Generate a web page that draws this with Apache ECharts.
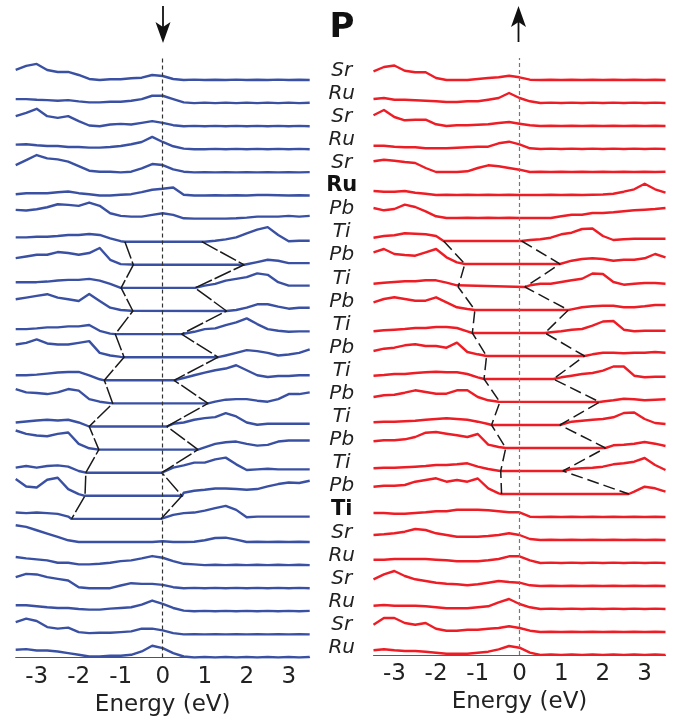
<!DOCTYPE html>
<html>
<head>
<meta charset="utf-8">
<script src="https://cdn.jsdelivr.net/npm/echarts@6/dist/echarts.min.js"></script>
<style>html,body{margin:0;padding:0;background:#fff}#c{width:680px;height:726px}</style>
</head>
<body>
<div id="c"></div>
<script>
// Energy grid (eV)
const energy = [-3.5,-3.25,-3,-2.75,-2.5,-2.25,-2,-1.75,-1.5,-1.25,-1,-0.75,-0.5,-0.25,0,0.25,0.5,0.75,1,1.25,1.5,1.75,2,2.25,2.5,2.75,3,3.25,3.5];
const xTicks = [-3,-2,-1,0,1,2,3];
const layers = ["Sr","Ru","Sr","Ru","Sr","Ru","Pb","Ti","Pb","Ti","Pb","Ti","Pb","Ti","Pb","Ti","Pb","Ti","Pb","Ti","Sr","Ru","Sr","Ru","Sr","Ru"];
const boldLayers = [5, 19];

// Spin-down layer DOS (top to bottom)
const dosDown = [
[10,14,16,10,8,8,5,1,0,0.7,0.7,1.7,2.3,5,4,1,0,0.4,0,0.3,0,0.4,0,0.3,0,0.4,0,0.3,0],
[4,4,3.3,3,2.3,3,1.7,0.7,0.7,1.3,1.3,2.3,4,7.3,7.3,4,0.7,0,0.5,0,0.5,0,0.5,0,0.5,0,0.5,0,0.3],
[10,13.3,17.3,10,8.3,10,5,0.7,0,1.7,2.3,1.7,3.3,5,3.3,1,0,0.3,0,0.3,0,0.3,0,0.3,0,0.3,0,0.3,0],
[4.7,5,4,3.3,3.3,2.3,2.3,1.7,1.7,2.3,3.3,5,7.3,12.3,7.3,3,0.7,0,0,0.4,0,0.4,0,0.4,0,0.4,0,0.4,0],
[7.3,12.3,17.3,14,13,10.7,6.3,1.7,0.7,0.7,0,0.7,4,8.3,7.3,3,0.7,0,0.3,0,0.3,0,0.3,0,0.3,0,0.3,0,0.3],
[1.3,2.3,2.3,2.3,3.3,4,2.3,1.3,0,0,0.7,1.3,3.3,5.7,6.7,8,0.7,0,0,0.3,0,0.3,0,0.5,0.5,0.3,0,0.3,0],
[8.7,8,9.3,11.3,14.3,13.7,12.7,16,12.7,5.3,2.7,2,2,3.7,5.3,3.7,0.3,0,0,0,0,0.3,1,2,2,2,2.7,2,2.7],
[4.3,4.3,5,5,5.7,6.7,6.7,7.7,6.7,3.3,0.5,0,0,0,0,0,0,0,0,1,2.3,4.3,8.3,12,14.5,6.7,0.5,1,1],
[6.7,8.3,10,10,12.7,11.7,10,11.7,16.7,5,0.7,0.3,0,0,0,0,0,0,0,0,0,0,0.5,2.7,5,4,1.7,1.7,1.7],
[5.7,5.7,5.7,6.3,7.3,8,8,9,7.3,4,0,0,0,0,0,0,0,0,2.3,4,7.3,9,10.7,14.5,13,5.7,2.3,2.3,2.3],
[11.7,13.3,15,16.7,13.3,11.7,10,17,10,3.3,1,0.3,0,0,0,0,0,0,0,0,0,1,3.3,6.7,6.7,4.3,2.3,3.3,3.3],
[5,5,5.7,6.7,6.7,7.7,7.7,9,3.3,0.5,0,0,0,0,0,0,0.3,2.3,5,5.7,9,11.7,15.7,10,5,3.3,2.3,2.7,2.7],
[12.7,14.3,17.7,13.7,12.7,12.7,14.3,16,4.3,1.7,0.3,0,0,0,0,0,0,0,0,0,1.7,4.3,7,6,4.3,1.7,2.7,4.3,7.7],
[5,5,5.7,6.7,7.7,8.3,8.3,5,1,0,0,0,0,0,0,0,2.3,5,7.7,10,11.7,15,10,5,3.3,4.3,4.3,5,5],
[14.3,11,10.3,9.3,11,14.3,12.7,4.3,1.7,0.3,0,0,0,0,0,0,0,0,0,1.7,3.7,4.3,4.3,2.7,1.7,4.3,9.3,9.3,11],
[4,5,6,6.7,6,6.7,4,0,0,0,0,0,0,0,0,2.7,4,6.7,8.3,9.3,13.3,10,4,1.7,2.7,2.7,2.7,2.7,2.7],
[19,15.7,14,13.3,15.7,17,5.7,1.3,0,0,0,0,0,0,0,0,0,0,2.3,5.7,7.3,8,5.7,4,4.7,8,9,9,9],
[5,6.7,5,6.7,7.3,6,1.7,0,0,0,0,0,0,0,0.5,5,7.3,10,10,13.3,15,8.3,2.7,3.3,4,3.3,3.3,3.3,3.3],
[16.7,9.3,8.3,16,18,6.7,1.7,0,0,0,0,0,0,0,0,0,3,5,6,7.3,7.3,6.7,6,6.7,9.3,11.7,13.3,12.7,15],
[6.3,5.7,6.3,5.7,5,2.3,0,0,0,0,0,0,0,0,1,4,5.7,6.3,8.3,10.7,13,9,1.7,2.3,2.3,2.3,2.3,2.3,2.3],
[16.7,15,11.7,8.3,5,1.7,0,0,0,0,0,0,0,0,0.7,0,0,0.3,1.7,4,4.3,2.3,0,0.3,0,0.3,0,0.3,0],
[8,6.7,5.7,4.7,2.3,2.3,0.7,0.7,1.3,2.3,4,4.7,6.7,9,7.3,4,1.3,0.7,0,0.4,0,0.4,0,0.4,0,0.4,0,0.4,0],
[11,14.3,13.7,11,9.3,7.7,1,0,0,0,2.7,5,4.3,4.3,3.3,1,0,0.3,0,0.3,0,0.3,0,0.3,0,0.3,0,0.3,0],
[6,6,5,4,3.3,3.3,2.3,1.7,1.7,2.7,3.3,4,6.7,10.7,7.3,3.3,0.7,0,0.4,0,0.4,0,0.4,0,0.4,0,0.4,0,0.4],
[12.3,15.7,13.3,7.3,5.7,6.7,2.3,1.3,1.7,1.7,2.3,3,5.7,5.7,4,1.3,0,0.3,0,0.3,0,0.3,0,0.3,0,0.3,0,0.3,0],
[7.7,8.3,7,7,6,4.3,2.7,1,1,1.7,1.7,2.7,6,11.7,9.3,4.3,1,0,0.5,0,0.5,0,0.5,0,0.5,0,0.5,0,0.5]
];

// Spin-up layer DOS (top to bottom)
const dosUp = [
[8.7,13,14.5,9.3,7.7,7.7,2,0,0,0,1,2,2.7,4.3,2.7,0.3,0,0.3,0,0.3,0,0.3,0,0.3,0,0.3,0,0.3,0],
[4,5,3.3,3.3,2.7,2.3,1.7,1,1,1.7,1.7,3.3,5,10,5,1.7,0,0.4,0,0.4,0,0.4,0,0.4,0,0.4,0,0.4,0],
[10.7,16,9,5.7,6.3,6.3,1.7,0,0.7,0.7,1.3,1.7,3,4,2.3,0.7,0,0.3,0,0.3,0,0.3,0,0.3,0,0.3,0,0.3,0],
[3.3,3.3,2.3,1.7,1.7,0.7,0.7,0.7,1.3,1.7,2.3,2.3,5.7,7.3,4.7,0.7,0,0.4,0,0.4,0,0.4,0,0.4,0,0.4,0,0.4,0],
[10.7,12.3,11.3,10,9,4,0,0,0,0.7,4,6.7,5.7,4,2.3,0,0.3,0,0.3,0,0.3,0,0.3,0,0.3,0,0.3,0,0.3],
[4,3.3,3.3,4,2.3,1.3,0,0.3,0,0.3,0,0.3,0,0.3,0,0,0,0.3,0,0.3,0,0.3,0.5,1.3,3.3,5.7,11.3,5.7,2.3],
[10,7.7,9,13.3,11,6.7,1.7,0,0,0.3,0,0.3,0,0.3,0,0,0,0,1.7,3.3,3.3,5,5,5.7,6.7,7.7,8.3,9,10],
[3.3,5,5.7,7.7,7.3,6.7,5,0,0,0,0,0,0,0,0,1,1.7,3.3,6.7,8.3,12,12.5,5,1,1.7,2.3,2.3,2.3,2.3],
[11.7,15,10,9,8.3,11.7,15,6.7,1.7,0,0,0,0,0,0,0,0,0,0.3,3.3,5,5.7,5,3.3,4.3,4.3,5.7,10,6.7],
[3.3,4.3,5,5.7,5.7,6.7,6.7,4.3,1.7,0,0,0,0,0,0,1.7,3.3,3.3,5,6.7,8.3,13.5,13,5,2.3,3.3,4,4,3.3],
[7.7,11,12.7,11,9.3,9.3,12.7,7.7,2.7,1,0,0,0,0,0,0,0,0,0,0.7,2.7,3.7,4.3,4.3,2.7,2.7,3.7,5,5],
[1.7,2.7,3.3,4,5,5,6,6,5,1.7,0,0,0,0,0,0,0,0.7,1.7,3.3,4,7.3,11.5,12,3.3,1.7,2.3,2.3,2.3],
[5,7.3,8.3,10.7,11.7,10,10,8.3,13.3,4,1.7,0,0,0,0,0,0,0,0,0,0,1.7,3.3,3.3,2.7,3.3,3.3,4,3.3],
[3.3,4,5,5,6,6.7,7.3,6.7,6.7,5,1.7,0,0,0,0,0,0,0,1.7,3.3,5,6,8.3,12.5,12.5,3.3,1.7,2.3,2.3],
[5,6.7,7.3,9.3,11.7,10,8.3,8.3,11.7,11.7,5,1.7,0.3,0,0,0,0,0,0,0,0,0,0.5,1.7,3.3,2.7,1.7,2.3,2.7],
[2.7,3.3,3.3,3.7,4.3,5.3,6,6.7,6,5.3,3.3,1,0,0,0,0,0,0,0.3,3.3,4.3,5.3,6,7.7,12,12.5,6,2,1],
[6.7,7.7,7.7,8.7,11,15.3,16,14.3,12.7,11,14,3.3,1,0,0,0,0,0,0,0,0,0,0,2.7,3.3,4.3,6,4.3,2],
[2.7,3.3,3.3,3.7,4.3,5,6,6,6.7,7.7,4.3,2,0.3,0,0,0,0,0,0,2,2.7,3.3,4.3,6.7,7.7,9.3,13,6,1],
[7.3,8.3,8.3,9,12.3,14,15.7,12.3,14,12.3,15.5,5.7,0.7,0,0,0,0,0,0,0,0,0,0,0,0,2.3,7.3,5.7,2.3],
[4,4,3.3,3.3,4,4.7,5.7,5.7,7.3,7.3,7.3,6.7,5.7,4.7,4.7,0.3,0,0.3,0,0.3,0,0.3,0,0.3,0,0.3,0,0.3,0],
[5,5.7,6.7,8.3,11,10,6.7,5,3.3,3.3,3.3,4,5,6.7,5,1,0,0.3,0,0.3,0,0.3,0,0.3,0,0.3,0,0.3,0],
[3.3,3.3,4,4,4,4,3.3,2.7,1.7,1.7,1.7,2.7,4,6.7,6.7,2.7,0,0.4,0,0.4,0,0.4,0,0.4,0,0.4,0,0.4,0],
[6.7,11.7,15,10,6.7,5,3.3,2.3,1.7,0.7,1.7,3.3,5,4,3.3,0.7,0,0.3,0,0.3,0,0.3,0,0.3,0,0.3,0,0.3,0],
[3.3,4,3.3,3.3,3.3,2.7,1.7,0.7,0.7,0.7,1.7,2.7,6.7,10,5,1.7,0,0.4,0,0.4,0,0.4,0,0.4,0,0.4,0,0.4,0],
[7.3,14,14,9,7.3,9,3.3,1.3,1.3,2.3,2.3,3.3,4,5.7,4,1.3,0,0.3,0,0.3,0,0.3,0,0.3,0,0.3,0,0.3,0],
[4.7,5.7,4.7,4,4,3.3,2.3,1.3,1.3,1.3,2.3,3.3,5.7,9,7.3,2.3,0,0.5,0,0.5,0,0.5,0,0.5,0,0.5,0,0.5,0]
];

// Band edges (eV) for the gapped layers
const gapFirstDown = 7;
const vbDown = [-0.90,-0.70,-0.99,-0.71,-1.13,-0.92,-1.39,-1.19,-1.75,-1.52,-1.83,-1.85,-2.17];
const cbDown = [0.93,1.94,0.77,1.52,0.45,1.32,0.27,1.08,0.10,0.84,-0.02,0.46,-0.04];
const gapFirstUp = 7;
const vbUp = [-1.82,-1.31,-1.47,-1.07,-1.13,-0.79,-0.85,-0.47,-0.67,-0.33,-0.45,-0.43];
const cbUp = [0.05,0.97,0.13,1.17,0.61,1.56,0.81,1.92,0.97,2.06,1.04,2.62];

const S = 23;               // vertical offset between layers (DOS units)
const N = layers.length;
const base = i => (N - 1 - i) * S;
const BLUE = '#3a51a3', RED = '#ee1c25';

function curve(h, i, vb, cb) {
  const pts = [];
  energy.forEach((e, k) => {
    if (vb === undefined || !(e > vb && e < cb)) pts.push([e, base(i) + h[k]]);
  });
  if (vb !== undefined) {
    pts.push([vb, base(i)], [cb, base(i)]);
    pts.sort((a, b) => a[0] - b[0]);
  }
  return pts;
}

function panelSeries(dos, vbs, cbs, first, color, gi, dash, vColor) {
  const out = [];
  dos.forEach((h, i) => {
    const j = i - first;
    const has = j >= 0 && j < vbs.length;
    out.push({
      type: 'line', xAxisIndex: gi, yAxisIndex: gi, showSymbol: false, silent: true,
      data: curve(h, i, has ? vbs[j] : undefined, has ? cbs[j] : undefined),
      lineStyle: { color: color, width: 2.4, join: 'round' }, z: 2
    });
  });
  const mk = arr => arr.map((e, j) => [e, base(first + j)]);
  [vbs, cbs].forEach(arr => out.push({
    type: 'line', xAxisIndex: gi, yAxisIndex: gi, showSymbol: false, silent: true,
    data: mk(arr), lineStyle: { color: '#1a1a1a', width: 1.5, type: dash }, z: 4
  }));
  out.push({
    type: 'line', xAxisIndex: gi, yAxisIndex: gi, data: [], silent: true,
    markLine: {
      silent: true, symbol: 'none', label: { show: false },
      lineStyle: { color: vColor, width: 1.2, type: [4, 3] },
      data: [[{ coord: [0, 0] }, { coord: [0, 597] }]]
    }, z: 5
  });
  return out;
}

const yMax = 26.5 * S;
const xAxisCommon = (gi, color) => ({
  type: 'value', gridIndex: gi, min: -3.5, max: 3.5,
  axisLine: { show: true, lineStyle: { color: color, width: 1 } },
  axisTick: { show: false }, splitLine: { show: false },
  axisLabel: { customValues: xTicks, fontSize: 23, color: '#222', margin: 8, fontFamily: 'DejaVu Sans' },
  name: 'Energy (eV)', nameLocation: 'middle', nameGap: 36,
  nameTextStyle: { fontSize: 23, color: '#222', fontFamily: 'DejaVu Sans' }
});

const chart = echarts.init(document.getElementById('c'));
chart.setOption({
  animation: false,
  grid: [
    { left: 15.7, width: 294, top: 657.5 - 26.5 * 23.1, height: 26.5 * 23.1 },
    { left: 373.5, width: 292, top: 655 - 26.5 * 23.0, height: 26.5 * 23.0 }
  ],
  xAxis: [xAxisCommon(0, BLUE), xAxisCommon(1, RED)],
  yAxis: [
    {
      type: 'value', gridIndex: 0, min: 0, max: yMax, position: 'right',
      axisLine: { show: false }, axisTick: { show: false }, splitLine: { show: false },
      axisLabel: {
        customValues: layers.map((n, i) => base(i) + 9.5),
        align: 'center', margin: 32,
        formatter: v => {
          const i = N - 1 - Math.round((v - 9.5) / S);
          return boldLayers.indexOf(i) >= 0 ? '{b|' + layers[i] + '}' : '{it|' + layers[i] + '}';
        },
        rich: {
          it: { fontStyle: 'italic', fontSize: 20, color: '#222', fontFamily: 'DejaVu Sans' },
          b: { fontWeight: 'bold', fontSize: 21, color: '#111', fontFamily: 'DejaVu Sans' }
        }
      }
    },
    { type: 'value', gridIndex: 1, min: 0, max: yMax, show: false }
  ],
  series: [].concat(
    panelSeries(dosDown, vbDown, cbDown, gapFirstDown, BLUE, 0, [18, 3], '#333'),
    panelSeries(dosUp, vbUp, cbUp, gapFirstUp, RED, 1, [12, 5], '#777')
  ),
  graphic: [
    { type: 'line', shape: { x1: 163, y1: 6, x2: 163, y2: 28 }, style: { stroke: '#111', lineWidth: 1.8 } },
    { type: 'polygon', shape: { points: [[155.5, 22], [163, 27], [170.5, 22], [163, 43]] }, style: { fill: '#111' } },
    { type: 'line', shape: { x1: 518.5, y1: 20, x2: 518.5, y2: 42 }, style: { stroke: '#111', lineWidth: 1.8 } },
    { type: 'polygon', shape: { points: [[518.5, 6], [526, 27], [518.5, 22], [511, 27]] }, style: { fill: '#111' } },
    { type: 'text', x: 342, y: 28, style: { text: 'P', fontSize: 34, fontWeight: 'bold', fill: '#111', align: 'center', verticalAlign: 'middle', fontFamily: 'DejaVu Sans' } }
  ]
});
</script>
</body>
</html>
